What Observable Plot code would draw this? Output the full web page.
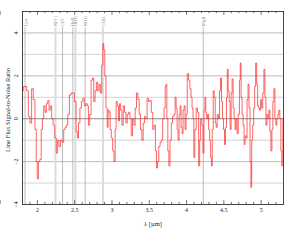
<!DOCTYPE html>
<html>
<head>
<meta charset="utf-8">
<script src="https://cdn.jsdelivr.net/npm/d3@7"></script>
<script src="https://cdn.jsdelivr.net/npm/@observablehq/plot@0.6"></script>
<style>
  html, body { margin: 0; padding: 0; background: #fff; }
  svg { display: block; }
</style>
</head>
<body>
<div id="chart"></div>
<script>
// Observed wavelength (µm) and line-flux S/N
const lam = [1.800,1.822,1.844,1.867,1.889,1.911,1.933,1.956,1.978,1.991,2.004,2.022,2.044,2.058,2.076,2.093,2.111,2.129,2.147,2.164,2.182,2.200,2.222,2.244,2.262,2.280,2.298,2.320,2.342,2.364,2.380,2.396,2.418,2.440,2.462,2.484,2.507,2.529,2.542,2.560,2.580,2.600,2.618,2.640,2.662,2.675,2.693,2.711,2.729,2.747,2.764,2.782,2.800,2.818,2.836,2.853,2.871,2.884,2.897,2.910,2.929,2.942,2.955,2.970,2.982,3.000,3.018,3.036,3.049,3.062,3.080,3.093,3.107,3.124,3.142,3.160,3.178,3.196,3.213,3.231,3.249,3.267,3.284,3.302,3.320,3.338,3.356,3.373,3.391,3.409,3.427,3.444,3.462,3.480,3.498,3.516,3.538,3.556,3.573,3.591,3.604,3.618,3.636,3.653,3.671,3.689,3.707,3.720,3.729,3.742,3.756,3.769,3.787,3.804,3.822,3.840,3.853,3.867,3.880,3.893,3.907,3.920,3.933,3.947,3.960,3.973,3.987,4.000,4.018,4.036,4.053,4.067,4.080,4.093,4.102,4.120,4.138,4.156,4.169,4.182,4.196,4.213,4.227,4.240,4.253,4.262,4.276,4.289,4.302,4.316,4.329,4.338,4.351,4.364,4.378,4.391,4.404,4.418,4.436,4.449,4.462,4.476,4.489,4.502,4.516,4.529,4.542,4.551,4.564,4.578,4.591,4.604,4.618,4.631,4.644,4.658,4.670,4.684,4.702,4.716,4.724,4.738,4.751,4.764,4.778,4.791,4.804,4.818,4.831,4.844,4.858,4.867,4.880,4.893,4.907,4.920,4.933,4.947,4.960,4.973,4.987,5.000,5.013,5.031,5.044,5.058,5.071,5.084,5.098,5.111,5.124,5.138,5.151,5.164,5.178,5.191,5.204,5.218,5.231,5.244,5.258,5.271,5.284,5.300];
const snr = [1.3,1.5,1.5,1.3,0.1,-0.2,1.4,0.9,-0.5,-2.0,-2.8,-2.0,-1.9,-0.5,0.0,0.6,0.3,0.7,0.85,0.4,0.6,0.0,-0.3,-0.9,-1.6,-1.0,-1.3,-1.0,-1.1,-0.5,-0.4,-0.3,0.2,1.1,1.2,1.2,0.8,-0.6,-0.9,-0.2,0.5,0.8,0.95,0.6,0.7,0.6,-0.3,0.2,1.8,1.9,0.8,1.3,1.7,1.3,1.6,1.2,2.5,3.5,3.2,2.0,0.5,-0.4,0.4,0.3,-0.5,-0.9,-1.5,-2.0,-0.5,0.8,0.6,-0.1,0.7,0.4,-0.3,0.6,0.3,-0.2,0.2,0.3,0.0,-0.8,0.0,-0.3,0.5,1.2,0.9,0.2,-0.5,-1.0,-0.2,0.1,0.0,0.95,0.8,0.85,0.3,-0.5,-0.3,-1.5,-2.3,-2.0,-1.3,-1.1,-1.0,0.0,0.5,1.5,1.6,0.0,-1.5,-2.2,-1.0,-0.2,0.1,0.2,1.0,0.5,-0.5,-1.0,0.2,0.6,-0.4,-0.7,0.4,0.6,-0.5,0.2,2.1,1.8,1.4,1.0,0.5,0.0,-1.8,-0.5,0.5,0.3,-2.2,-1.0,0.0,-0.3,-1.6,0.4,1.0,0.3,0.0,0.2,-0.5,-1.0,-1.8,-2.2,-0.5,1.3,1.0,-0.2,-0.4,0.2,0.0,1.3,1.9,0.8,0.0,-0.5,-1.2,-0.4,1.0,2.3,1.3,0.8,-0.5,1.2,1.85,0.5,0.0,-0.5,0.0,-0.7,0.2,1.8,2.6,1.0,0.2,-0.3,-1.2,-0.8,-0.9,0.9,1.6,0.5,-2.0,-3.2,-1.0,-0.3,0.5,1.5,2.6,1.6,0.6,0.5,0.4,0.9,0.5,1.2,2.3,1.0,-0.3,0.2,0.0,0.4,-0.6,-1.5,-0.5,0.8,1.4,0.0,-0.3,0.0,0.2,0.4,0.0,-1.5,-2.2,0.0];

// Emission lines (observed µm)
const lineNames = ["Lyα","NIV]","CIV","HeII","OIII]","NIII]","CIII]","MgII"];
const lineLam   = [1.834, 2.242, 2.337, 2.475, 2.509, 2.641, 2.879, 4.224];
const lineFaint = [false, true, false, false, true, false, true, false];

const xTicks = [2, 2.5, 3, 3.5, 4, 4.5, 5];
const xTickLabels = ["2", "2.5", "3", "3.5", "4", "4.5", "5"];
const yTicks = [-4, -2, 0, 2, 4];
const yTickLabels = ["−4", "−2", "0", "2", "4"];
const yGridMajor = [-2, 2, 4];
const yGridMinor = [-3, -1, 1, 3];

const spec = lam.map((l, i) => ({lam: l, snr: snr[i]}));
const lines = lineLam.map((l, i) => ({lam: l, name: lineNames[i], faint: lineFaint[i]}));
const minor = d3.range(18, 54).map(d => d / 10).filter(d => Math.abs(d * 2 - Math.round(d * 2)) > 1e-6);
const major = [1.5, 2, 2.5, 3, 3.5, 4, 4.5, 5];
const xt = xTicks.map((v, i) => ({v, s: xTickLabels[i]}));
const yt = yTicks.map((v, i) => ({v, s: yTickLabels[i]}));

const font = "Liberation Serif, DejaVu Serif, serif";

const chart = Plot.plot({
  width: 287,
  height: 240,
  marginLeft: 22,
  marginRight: 4,
  marginTop: 11,
  marginBottom: 36,
  style: {fontFamily: font, background: "#fff", overflow: "visible"},
  x: {domain: [1.8, 5.3], axis: null},
  y: {domain: [-4, 5], axis: null},
  marks: [
    Plot.ruleY(yGridMinor, {stroke: "#c8c8c8", strokeWidth: 0.8}),
    Plot.ruleY(yGridMajor, {stroke: "#a8a8a8", strokeWidth: 0.8}),
    Plot.ruleX(lines.filter(d => d.faint), {x: "lam", y1: -4, y2: 4.25, stroke: "#dcdcdc", strokeWidth: 2}),
    Plot.ruleX(lines.filter(d => !d.faint), {x: "lam", y1: -4, y2: 4.25, stroke: "#a0a0a0", strokeWidth: 0.7}),
    Plot.ruleY([0], {stroke: "#707070", strokeWidth: 0.8}),
    Plot.text(lines, {x: "lam", y: 4.3, text: "name", rotate: -90, textAnchor: "start", fontSize: 5, fill: "#888"}),
    Plot.line(spec, {x: "lam", y: "snr", curve: "step", stroke: "#ff1a1a", strokeWidth: 0.8, strokeOpacity: 0.85}),
    // inward ticks bottom
    Plot.ruleX(minor, {x: d => d, y1: -4, y2: -3.9, stroke: "#333", strokeWidth: 0.7}),
    Plot.ruleX(major, {x: d => d, y1: -4, y2: -3.82, stroke: "#333", strokeWidth: 0.7}),
    // inward ticks top
    Plot.ruleX(minor, {x: d => d, y1: 5, y2: 4.9, stroke: "#333", strokeWidth: 0.7}),
    Plot.ruleX(major, {x: d => d, y1: 5, y2: 4.82, stroke: "#333", strokeWidth: 0.7}),
    Plot.frame({stroke: "#333", strokeWidth: 0.9}),
    Plot.text(xt, {x: "v", text: "s", frameAnchor: "bottom", dy: 6, lineAnchor: "middle", fontSize: 6, fill: "#222"}),
    Plot.text(yt, {y: "v", text: "s", frameAnchor: "left", dx: -6, rotate: -90, textAnchor: "middle", fontSize: 6, fill: "#222"}),
    Plot.text(["λ [µm]"], {frameAnchor: "bottom", dy: 19, lineAnchor: "middle", fontSize: 6.5, fill: "#222"}),
    Plot.text(["Line Flux Signal-to-Noise Ratio"], {frameAnchor: "left", dx: -15, dy: 2, rotate: -90, textAnchor: "middle", fontSize: 6.5, fill: "#222"})
  ]
});
document.getElementById("chart").appendChild(chart);
</script>
</body>
</html>
